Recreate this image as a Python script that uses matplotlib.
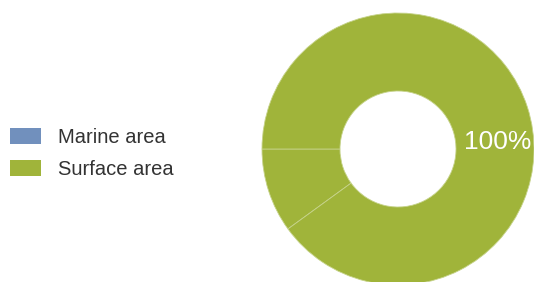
import matplotlib.pyplot as plt
from matplotlib.patches import Patch

plt.rcParams['font.family'] = ['Liberation Sans', 'DejaVu Sans']

labels = ['Marine area', 'Surface area']
colors = ['#7190bd', '#a0b43a']
shares = [0, 100]
# the surface area ring is drawn in two parts (seams visible on the left)
surface_parts = [10, 90]
pct_label = '100%'

fig = plt.figure(figsize=(5.34, 2.82), dpi=100)
ax = fig.add_axes([0, 0, 1, 1])

cx, cy, r = 398, 133, 136
ax.pie(surface_parts, colors=[colors[1]] * len(surface_parts), startangle=180,
       counterclock=True, center=(cx, cy), radius=r, frame=True,
       wedgeprops=dict(width=78, edgecolor='#c6d38a', linewidth=0.6))
ax.set_xlim(0, 534)
ax.set_ylim(0, 282)
ax.set_aspect('equal')
ax.axis('off')

ax.text(cx + 100, cy + 7, pct_label, color='white', fontsize=19,
        ha='center', va='center')

handles = [Patch(facecolor=c, edgecolor='none') for c in colors]
ax.legend(handles, labels, loc='center left', bbox_to_anchor=(-0.015, 0.455),
          frameon=False, fontsize=14.5, handlelength=1.55, handleheight=0.85,
          handletextpad=0.85, labelspacing=0.65, labelcolor='#333333',
          borderpad=0.4)

fig.savefig('out.png', dpi=100)
